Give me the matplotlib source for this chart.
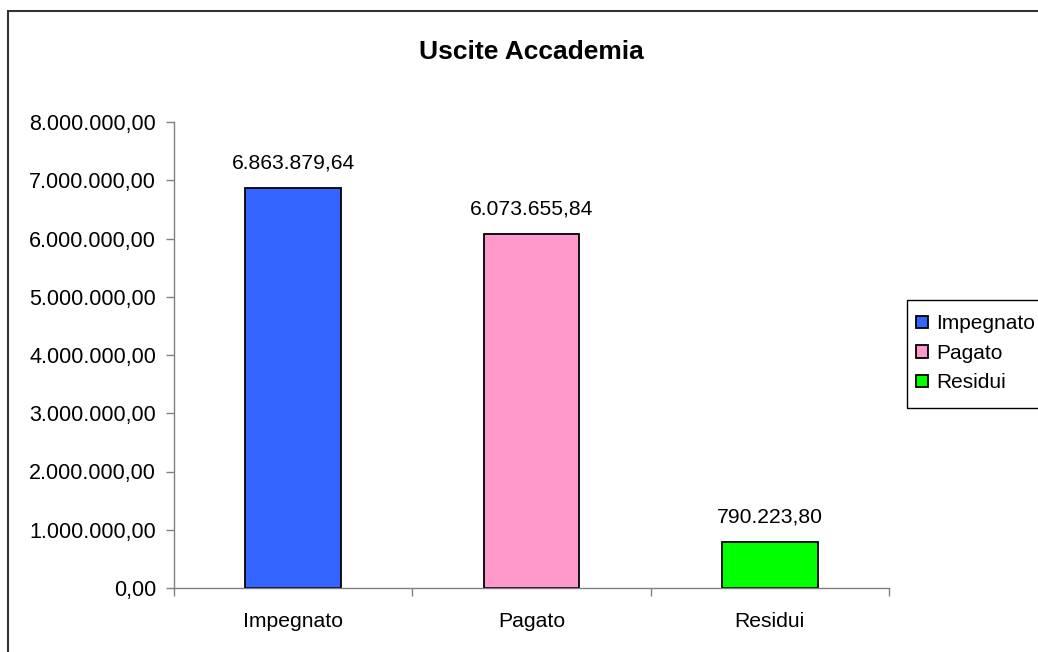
import matplotlib.pyplot as plt
import numpy as np
from matplotlib.patches import Rectangle
from matplotlib.ticker import FuncFormatter

plt.rcParams["font.family"] = ["Liberation Sans", "DejaVu Sans"]

categories = ["Impegnato", "Pagato", "Residui"]
values = [6863879.64, 6073655.84, 790223.80]
colors = ["#3366FF", "#FF99CC", "#00FF00"]
y_ticks = [0, 1e6, 2e6, 3e6, 4e6, 5e6, 6e6, 7e6, 8e6]


def it_fmt(v):
    # italian number format: 1.234.567,89
    s = f"{v:,.2f}"
    return s.replace(",", "X").replace(".", ",").replace("X", ".")


W, H = 1038, 652
fig = plt.figure(figsize=(W / 100, H / 100), dpi=100)
ax = fig.add_axes([174 / W, 1 - 588 / H, (889 - 174) / W, (588 - 122) / H])

x = np.arange(len(categories))
bars = ax.bar(x, values, width=0.4, color=colors, edgecolor="black", linewidth=1.3)
for xi, v in zip(x, values):
    ax.annotate(it_fmt(v), (xi, v), xytext=(0, 11), textcoords="offset points",
                ha="center", va="bottom", fontsize=15.2)

ax.set_xlim(-0.5, 2.5)
ax.set_ylim(0, 8e6)
ax.set_yticks(y_ticks)
ax.yaxis.set_major_formatter(FuncFormatter(lambda v, p: it_fmt(v)))
ax.set_xticks(x)
ax.set_xticklabels(categories)
ax.set_xticks([-0.5, 0.5, 1.5, 2.5], minor=True)
ax.tick_params(axis="x", which="major", length=0, pad=17, labelsize=15.2)
ax.tick_params(axis="x", which="minor", length=6, color="#808080", width=1)
ax.tick_params(axis="y", length=6, color="#808080", width=1, labelsize=15.5, pad=7)
for s in ("top", "right"):
    ax.spines[s].set_visible(False)
for s in ("left", "bottom"):
    ax.spines[s].set_color("#808080")
    ax.spines[s].set_linewidth(1)

fig.text(531 / W, 1 - 52 / H, "Uscite Accademia", ha="center", va="center",
         fontsize=19, fontweight="bold")

# outer chart frame, running off the right and bottom edges
fig.patches.append(Rectangle((8 / W, -0.1), 1.2, 1 - 11 / H + 0.1,
                             transform=fig.transFigure, fill=False,
                             edgecolor="#333333", linewidth=1.5))

# legend box drawn by hand so the entries can sit lower inside it
fig.patches.append(Rectangle((907 / W, 1 - 408 / H), 0.2, (408 - 300) / H,
                             transform=fig.transFigure, fill=False,
                             edgecolor="black", linewidth=1))
leg = fig.legend(handles=list(bars), labels=categories, loc="upper left",
                 bbox_to_anchor=(907 / W, 1 - 305 / H), fontsize=15,
                 frameon=False, handlelength=0.55, handleheight=0.55,
                 handletextpad=0.4, borderpad=0.45, labelspacing=0.5,
                 borderaxespad=0)

fig.savefig("out.png", dpi=100)
